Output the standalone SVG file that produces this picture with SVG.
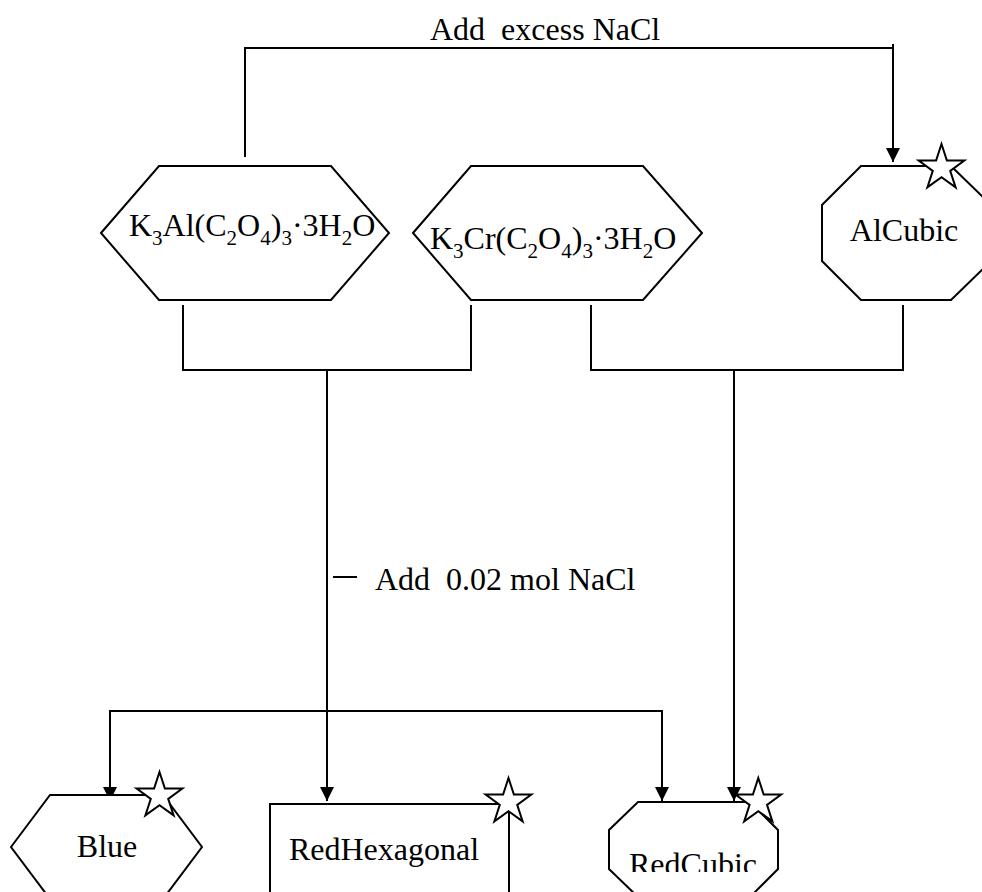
<svg xmlns="http://www.w3.org/2000/svg" width="982" height="892" viewBox="0 0 982 892">
<style>
.shape{fill:#fff;stroke:#000;stroke-width:2}
.conn{fill:none;stroke:#000;stroke-width:2}
.star{fill:#fff;stroke:#000;stroke-width:2;stroke-linejoin:miter}
text{font-family:"Liberation Serif","Times New Roman",serif;font-size:32px;fill:#000;white-space:pre}
.sub{font-size:21px}
</style>
<defs>
<marker id="arr" markerUnits="userSpaceOnUse" markerWidth="14" markerHeight="15" refX="14" refY="7" orient="auto" viewBox="0 0 14 14">
<path d="M0,0 L14,7 L0,14 Z" fill="#000"/>
</marker>
<path id="star" d="M0,-24 L5.39,-7.42 L22.83,-7.42 L8.72,2.83 L14.11,19.42 L0,9.17 L-14.11,19.42 L-8.72,2.83 L-22.83,-7.42 L-5.39,-7.42 Z"/>
<clipPath id="clipRC"><rect x="0" y="0" width="982" height="872"/></clipPath>
</defs>
<rect width="982" height="892" fill="#fff"/>
<g id="connectors">
<path class="conn" d="M245,157 V48 H893"/>
<path class="conn" d="M893,44 V162" marker-end="url(#arr)"/>
<path class="conn" d="M183,305 V370 H471 V305"/>
<path class="conn" d="M327,370 V801" marker-end="url(#arr)"/>
<path class="conn" d="M591,305 V370 H903 V305"/>
<path class="conn" d="M734,370 V801" marker-end="url(#arr)"/>
<path class="conn" d="M327,711 H110 V801" marker-end="url(#arr)"/>
<path class="conn" d="M327,711 H662 V801" marker-end="url(#arr)"/>
<line class="conn" x1="333" y1="577" x2="357" y2="577"/>
<text x="430" y="40">Add  excess NaCl</text>
<text x="375" y="590">Add  0.02 mol NaCl</text>
</g>
<g id="node-k3al">
<polygon class="shape" points="101,233 159,166 331,166 389,233 331,300 159,300"/>
<text x="129" y="236">K<tspan class="sub" dy="9">3</tspan><tspan dy="-9">Al(C</tspan><tspan class="sub" dy="9">2</tspan><tspan dy="-9">O</tspan><tspan class="sub" dy="9">4</tspan><tspan dy="-9">)</tspan><tspan class="sub" dy="9">3</tspan><tspan dy="-9">·3H</tspan><tspan class="sub" dy="9">2</tspan><tspan dy="-9">O</tspan></text>
</g>
<g id="node-k3cr">
<polygon class="shape" points="413,233 471,166 643,166 702,233 643,300 471,300"/>
<text x="430" y="249">K<tspan class="sub" dy="9">3</tspan><tspan dy="-9">Cr(C</tspan><tspan class="sub" dy="9">2</tspan><tspan dy="-9">O</tspan><tspan class="sub" dy="9">4</tspan><tspan dy="-9">)</tspan><tspan class="sub" dy="9">3</tspan><tspan dy="-9">·3H</tspan><tspan class="sub" dy="9">2</tspan><tspan dy="-9">O</tspan></text>
</g>
<g id="node-alcubic">
<polygon class="shape" points="861,166 951,166 991,205 991,261 951,300 861,300 822,261 822,205"/>
<text x="904" y="241" text-anchor="middle">AlCubic</text>
<use href="#star" class="star" transform="translate(941.5,168)"/>
</g>
<g id="node-blue">
<polygon class="shape" points="11,847 50,795 163,795 202,847 163,899 50,899"/>
<text x="107" y="857" text-anchor="middle">Blue</text>
<use href="#star" class="star" transform="translate(159.5,796)"/>
</g>
<g id="node-redhexagonal">
<rect class="shape" x="270" y="804" width="239" height="100"/>
<text x="384" y="860" text-anchor="middle">RedHexagonal</text>
<use href="#star" class="star" transform="translate(508.5,802)"/>
</g>
<g id="node-redcubic">
<polygon class="shape" points="638,802 750,802 778,830 778,869 750,897 638,897 609,869 609,830"/>
<text x="693" y="875" text-anchor="middle" clip-path="url(#clipRC)">RedCubic</text>
<use href="#star" class="star" transform="translate(758.3,802)"/>
</g>
</svg>
